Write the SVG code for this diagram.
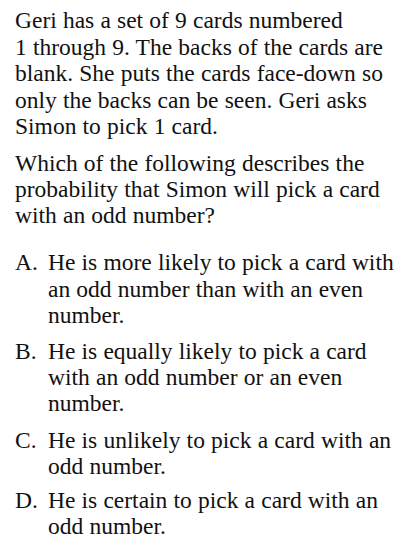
<svg xmlns="http://www.w3.org/2000/svg" width="405" height="551" viewBox="0 0 405 551">
<style>
text{font-family:"Liberation Serif","Times New Roman",serif;font-size:23.5px;word-spacing:0.3px;fill:#111111}
</style>
<rect width="405" height="551" fill="#ffffff"/>
<g id="stem">
<text x="15" y="28">Geri has a set of 9 cards numbered</text>
<text x="15" y="54.5">1 through 9. The backs of the cards are</text>
<text x="15" y="81">blank. She puts the cards face-down so</text>
<text x="15" y="107.5">only the backs can be seen. Geri asks</text>
<text x="15" y="134">Simon to pick 1 card.</text>
</g>
<g id="question">
<text x="15" y="171">Which of the following describes the</text>
<text x="15" y="197">probability that Simon will pick a card</text>
<text x="15" y="223">with an odd number?</text>
</g>
<g id="optA">
<text x="15" y="270">A.</text>
<text x="48" y="270">He is more likely to pick a card with</text>
<text x="48" y="296.5">an odd number than with an even</text>
<text x="48" y="322.5">number.</text>
</g>
<g id="optB">
<text x="15" y="359">B.</text>
<text x="48" y="359">He is equally likely to pick a card</text>
<text x="48" y="385">with an odd number or an even</text>
<text x="48" y="411">number.</text>
</g>
<g id="optC">
<text x="15" y="447.5">C.</text>
<text x="48" y="447.5">He is unlikely to pick a card with an</text>
<text x="48" y="473.5">odd number.</text>
</g>
<g id="optD">
<text x="15" y="508">D.</text>
<text x="48" y="508">He is certain to pick a card with an</text>
<text x="48" y="534">odd number.</text>
</g>
</svg>
